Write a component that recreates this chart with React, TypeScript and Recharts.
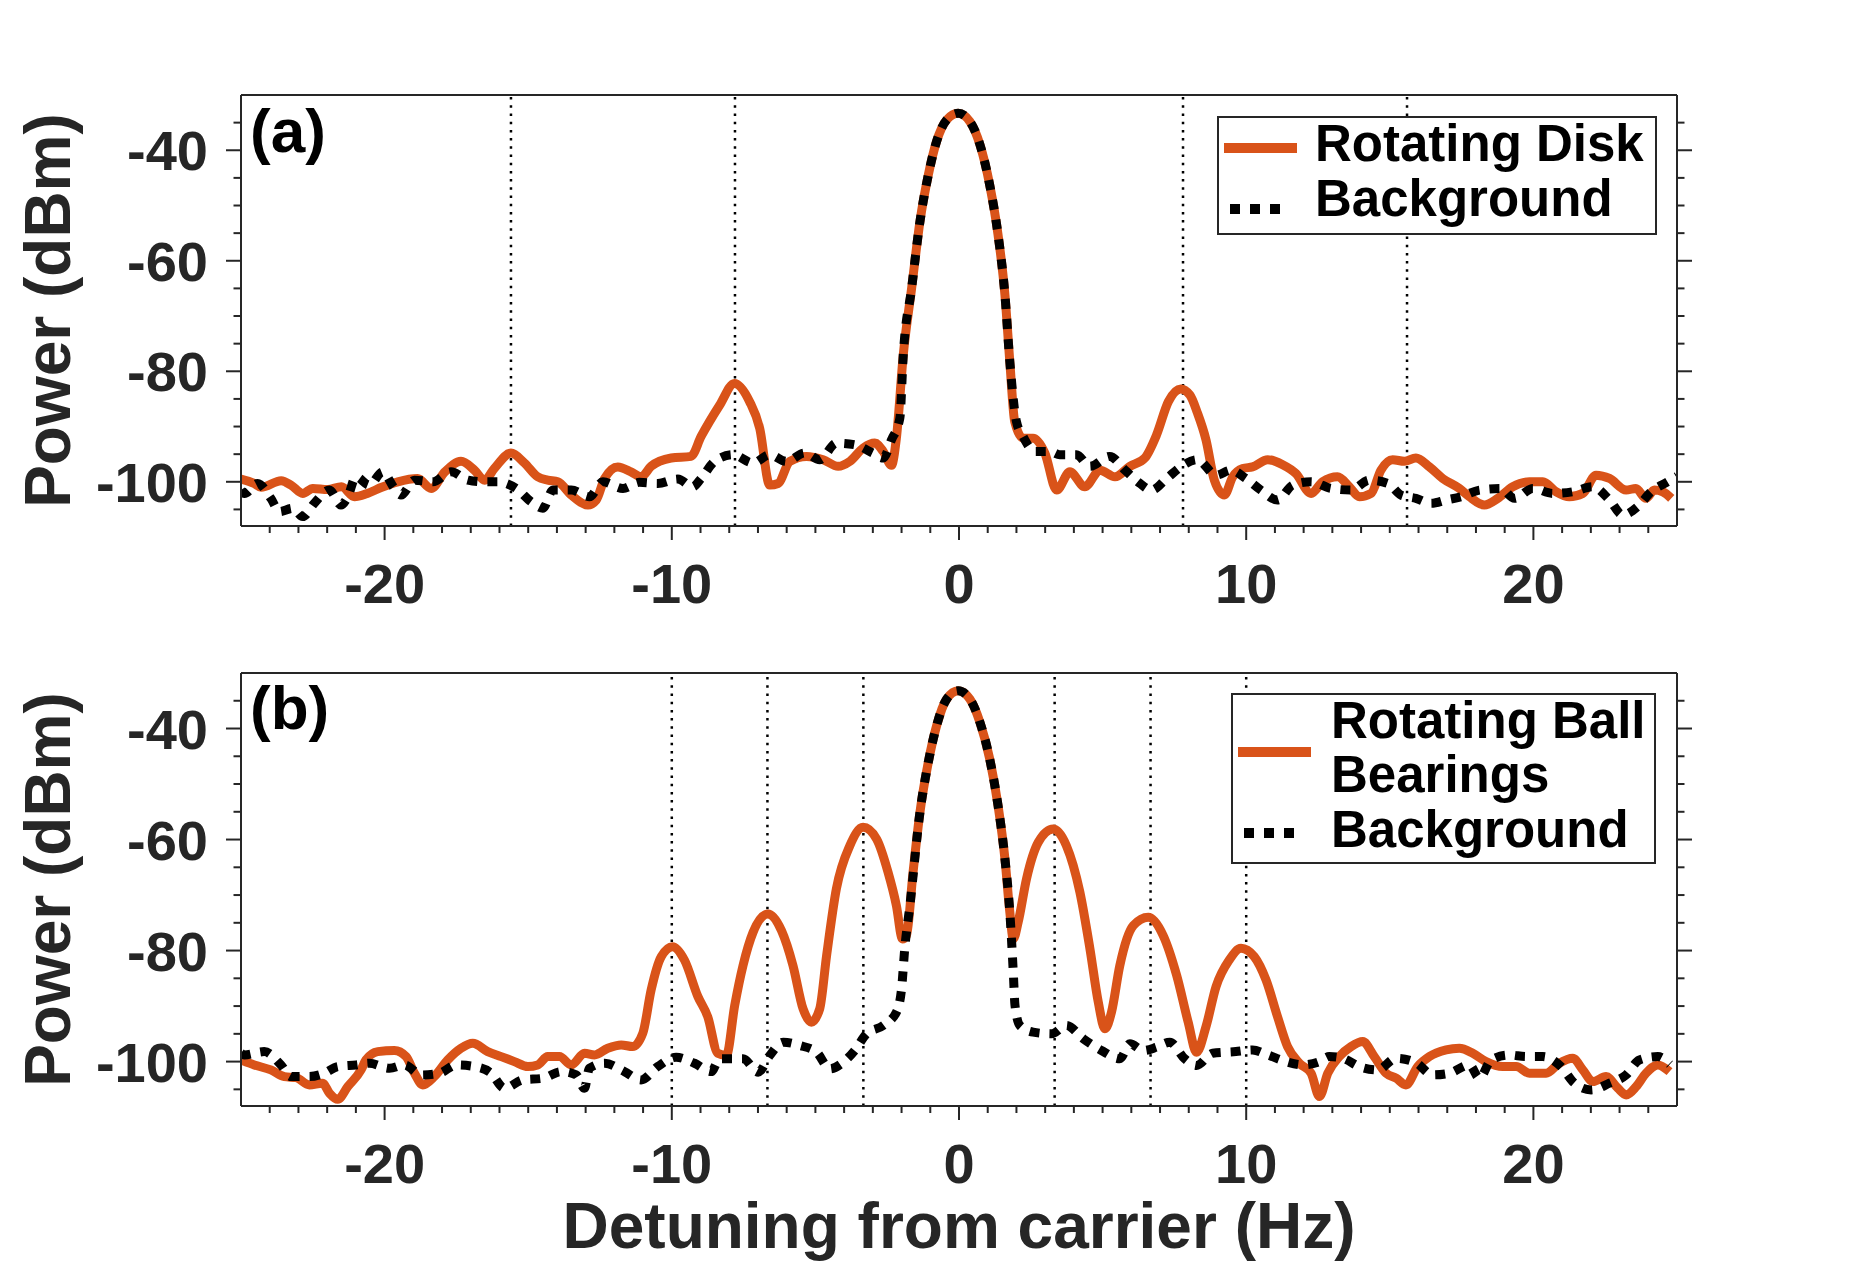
import { Label, Legend, Line, LineChart, ReferenceLine, XAxis, YAxis } from "recharts";

const ORANGE = "#D95319";
const BLACK = "#000000";
const AXIS = "#262626";
const FONT = '"Liberation Sans", Arial, Helvetica, sans-serif';

// (a) rotating disk, [detuning Hz, power dBm]
const diskSpectrum: [number, number][] = [
    [-25, -99.5], [-24.54, -100.3], [-24.3, -101], [-23.6, -99.8], [-23.26, -100.6], [-22.85, -102.1],
    [-22.5, -101.2], [-21.98, -101.4], [-21.5, -100.9], [-21.05, -102.7], [-20.6, -102.1], [-20.1, -101],
    [-19.54, -100], [-18.85, -99.4], [-18.38, -101.2], [-17.9, -98.2], [-17.34, -96.3], [-16.87, -97.9],
    [-16.52, -99.7], [-16.18, -97.6], [-15.6, -94.8], [-15.13, -96.6], [-14.67, -99.1], [-14.32, -99.7],
    [-13.97, -100], [-13.5, -102.4], [-12.92, -104.2], [-12.63, -103.3], [-12.34, -99.4], [-11.88, -97.3],
    [-11.42, -98.2], [-11.07, -99.1], [-10.72, -97.2], [-10.02, -95.7], [-9.33, -95.4], [-8.98, -91.8],
    [-8.33, -86.1], [-7.82, -82.2], [-7.29, -85.5], [-6.94, -90.3], [-6.59, -100.6], [-6.3, -100.3],
    [-5.89, -96.3], [-5.31, -95.4], [-4.73, -96], [-4.21, -97.2], [-3.8, -96.3], [-3.34, -93.9],
    [-2.93, -93], [-2.64, -94.5], [-2.35, -97], [-2.18, -92.1], [-1.94, -77], [-1.65, -65],
    [-1.36, -52.9], [-1.07, -44.5], [-0.78, -38.4], [-0.43, -34.5], [-0.03, -33.3], [0.38, -34.8],
    [0.73, -39], [1.07, -46.3], [1.36, -55.3], [1.6, -66.2], [1.77, -78.3], [1.94, -89.1],
    [2.23, -92.1], [2.58, -92.1], [2.99, -94.8], [3.4, -101.5], [3.86, -98.2], [4.38, -100.9],
    [4.91, -97.9], [5.43, -99.1], [5.95, -97.2], [6.47, -95.7], [6.88, -91.5], [7.29, -85.5],
    [7.72, -83.2], [8.04, -84.3], [8.3, -87.5], [8.6, -92.4], [8.89, -99.7], [9.24, -102.4],
    [9.53, -99.1], [9.88, -97.6], [10.22, -97.3], [10.75, -96], [11.27, -96.9], [11.73, -98.5],
    [12.26, -102.1], [12.66, -100], [13.18, -99.1], [13.59, -100.9], [13.94, -102.7], [14.35, -102.1],
    [14.69, -97.9], [15.1, -96], [15.51, -96.3], [15.91, -95.7], [16.38, -97.3], [16.84, -99.4],
    [17.42, -101.2], [17.77, -102.7], [18.29, -104.2], [18.76, -103], [19.28, -100.9], [19.86, -100],
    [20.33, -100], [20.79, -101.8], [21.25, -102.7], [21.72, -102.1], [22.18, -98.8], [22.65, -99.4],
    [23.23, -101.5], [23.57, -101.2], [23.92, -103], [24.21, -101.5], [24.5, -101.8], [24.8, -103],
];

const diskBackground: [number, number][] = [
    [-25, -101.5], [-24.88, -102.1], [-24.42, -100.3], [-23.96, -103], [-23.66, -105.4], [-23.2, -104.8],
    [-22.85, -106.3], [-22.45, -103.9], [-21.92, -101.5], [-21.52, -104.2], [-21.28, -102.7], [-21, -99.1],
    [-20.53, -100.6], [-20.07, -98.2], [-19.66, -101.2], [-19.43, -102.4], [-18.96, -99.7], [-18.32, -100],
    [-17.69, -98.2], [-17.1, -99.7], [-16.58, -100], [-16.06, -100], [-15.42, -101.2], [-14.9, -103.6],
    [-14.49, -104.8], [-14.14, -101.5], [-13.5, -101.5], [-12.87, -102.7], [-12.4, -100], [-11.7, -101.2],
    [-11.13, -100.1], [-10.49, -100.3], [-9.79, -99.5], [-9.27, -100.9], [-8.98, -99.4], [-8.51, -96.3],
    [-7.87, -95.1], [-7.17, -96.6], [-6.59, -95.1], [-6.01, -96.3], [-5.37, -94.8], [-4.85, -96],
    [-4.27, -93], [-3.63, -93.3], [-3, -94.8], [-2.64, -95.7], [-2.35, -92.4], [-2.06, -88.5],
    [-1.94, -77], [-1.65, -65], [-1.36, -52.9], [-1.07, -44.5], [-0.78, -38.4], [-0.43, -34.5],
    [-0.03, -33.3], [0.38, -34.8], [0.73, -39], [1.07, -46.3], [1.36, -55.3], [1.6, -66.2],
    [1.77, -78.3], [2, -89.1], [2.23, -91.8], [2.64, -94.5], [3.16, -94.5], [3.51, -95.1],
    [4.09, -95.1], [4.56, -97.2], [5.25, -95.4], [5.78, -97.9], [6.3, -100.3], [6.7, -101.5],
    [7.23, -99.4], [7.75, -97.2], [8.3, -96], [8.95, -98.8], [9.47, -97.9], [9.99, -99.4],
    [10.51, -101.5], [11.09, -103.3], [11.62, -100.6], [12.26, -100], [12.95, -101.2], [13.65, -101.5],
    [14.29, -99.7], [14.93, -100.3], [15.39, -102.4], [15.91, -103], [16.44, -103.9], [16.96, -103.3],
    [17.48, -102.7], [18.12, -101.5], [18.87, -101.2], [19.34, -103], [19.98, -101.2], [20.67, -102.1],
    [21.37, -101.8], [22.07, -100.9], [22.65, -103.3], [23.11, -106], [23.63, -104.5], [24.1, -101.8],
    [24.68, -100], [25, -99],
];

// (b) rotating ball bearings
const ballSpectrum: [number, number][] = [
    [-25, -99.7], [-24.54, -100.6], [-23.96, -101.5], [-23.49, -102.7], [-23.08, -102.9], [-22.62, -104.2],
    [-22.16, -103.9], [-21.92, -105.7], [-21.63, -106.8], [-21.28, -104.5], [-20.82, -101.5], [-20.65, -99.7],
    [-20.24, -98.2], [-19.66, -98], [-19.25, -99.1], [-18.96, -102.1], [-18.67, -104.2], [-18.27, -102.7],
    [-17.8, -99.7], [-17.34, -97.6], [-16.93, -96.7], [-16.41, -98.2], [-15.94, -99.1], [-15.48, -100],
    [-15.01, -100.9], [-14.67, -100.6], [-14.32, -99.1], [-13.91, -99.1], [-13.5, -100.6], [-13.04, -98.5],
    [-12.69, -98.8], [-12.23, -97.6], [-11.76, -97], [-11.36, -97.3], [-11.01, -94.9], [-10.72, -87.1],
    [-10.37, -81.1], [-9.97, -79.3], [-9.56, -81.7], [-9.09, -88.3], [-8.75, -91.9], [-8.4, -98.5],
    [-8.1, -98.9], [-7.81, -89.9], [-7.52, -82.7], [-7.17, -76.7], [-6.65, -73.4], [-6.18, -76.4],
    [-5.78, -82.7], [-5.43, -90.5], [-5.14, -92.9], [-4.85, -90.5], [-4.61, -80.9], [-4.27, -68.9],
    [-3.8, -61.1], [-3.34, -57.8], [-2.87, -59.9], [-2.47, -65.9], [-2.18, -71.9], [-1.97, -77.9],
    [-1.83, -77.3], [-1.6, -65.9], [-1.36, -55.1], [-1.07, -46.1], [-0.78, -39.5], [-0.43, -34.7],
    [-0.03, -33.2], [0.38, -34.7], [0.73, -38.9], [1.07, -45.5], [1.36, -53.9], [1.6, -63.5],
    [1.77, -73.1], [1.89, -77.9], [2.06, -74.9], [2.35, -67.1], [2.76, -60.5], [3.28, -58.1],
    [3.74, -61.1], [4.21, -69.5], [4.56, -79.7], [4.85, -89.3], [5.08, -94.1], [5.31, -91.1],
    [5.6, -82.7], [6.07, -75.5], [6.59, -74], [7.11, -77.3], [7.58, -84.5], [7.98, -92.9],
    [8.27, -98.3], [8.6, -93.7], [8.95, -86.5], [9.41, -81.7], [9.82, -79.6], [10.28, -81.1],
    [10.69, -85.3], [11.09, -91.9], [11.44, -97.3], [11.85, -100.3], [12.26, -102.1], [12.55, -106.3],
    [12.84, -102.1], [13.24, -99.1], [13.65, -97.3], [14.06, -96.4], [14.46, -99.1], [14.87, -102.1],
    [15.22, -103], [15.56, -104.2], [15.97, -100.9], [16.38, -99.1], [16.96, -97.9], [17.42, -97.6],
    [17.89, -98.5], [18.35, -100], [18.93, -100.9], [19.4, -100.9], [19.86, -102.1], [20.44, -102.1],
    [20.9, -100.3], [21.37, -99.4], [21.72, -101.5], [22.07, -103.6], [22.53, -102.7], [22.94, -104.8],
    [23.23, -106], [23.58, -104.5], [23.92, -102.1], [24.33, -100.6], [24.74, -101.8],
];

const ballBackground: [number, number][] = [
    [-25, -98.5], [-24.88, -98.8], [-24.19, -98.2], [-23.61, -100.6], [-23.26, -102.7], [-22.62, -102.7],
    [-22.1, -102.1], [-21.63, -100.9], [-20.99, -100.6], [-20.53, -100.3], [-19.83, -101.2], [-19.31, -100.6],
    [-18.73, -102.4], [-18.09, -102.1], [-17.51, -100.6], [-16.87, -100.9], [-16.29, -102.1], [-15.83, -104.8],
    [-15.19, -103.3], [-14.49, -103], [-13.85, -101.8], [-13.33, -102.4], [-13.04, -104.8], [-12.87, -101.2],
    [-12.34, -100.3], [-11.65, -101.8], [-11.07, -103.3], [-10.49, -100.9], [-9.85, -99.2], [-9.21, -100.3],
    [-8.63, -101.8], [-8.33, -99.5], [-7.52, -99.5], [-6.99, -101.9], [-6.59, -98.9], [-6.12, -96.5],
    [-5.54, -97.1], [-4.96, -98.3], [-4.5, -101.3], [-4.03, -100.1], [-3.63, -98], [-3.22, -95],
    [-2.64, -93.5], [-2.18, -91.1], [-2, -86.9], [-1.89, -79.7], [-1.71, -71.9], [-1.36, -55.1],
    [-1.07, -46.1], [-0.78, -39.5], [-0.43, -34.7], [-0.03, -33.2], [0.38, -34.7], [0.73, -38.9],
    [1.07, -45.5], [1.36, -53.9], [1.6, -63.5], [1.77, -73.1], [1.89, -83.9], [1.95, -89.9],
    [2.12, -93.5], [2.58, -94.7], [3.22, -95], [3.74, -93.5], [4.33, -95.9], [4.96, -98],
    [5.6, -99.5], [5.95, -96.8], [6.42, -98], [6.88, -97.4], [7.34, -96.5], [7.86, -99.5],
    [8.27, -100.7], [8.83, -98.5], [9.64, -98.2], [10.22, -97.9], [10.75, -98.8], [11.38, -100],
    [11.97, -100.6], [12.55, -100], [12.89, -99.1], [13.36, -99.4], [13.94, -100.9], [14.58, -101.5],
    [15.22, -99.4], [15.91, -100.2], [16.49, -102.4], [17.07, -102.1], [17.77, -100.6], [18.12, -103],
    [18.53, -99.7], [19.16, -98.8], [19.74, -99.1], [20.33, -99.1], [20.96, -100.9], [21.43, -103.9],
    [22.01, -105.1], [22.65, -103.9], [23.23, -102.4], [23.69, -99.7], [24.33, -99.1], [24.75, -100.5],
];

const diskMarkers = [-15.6, -7.8, 7.8, 15.6];
const ballMarkers = [-10, -6.67, -3.33, 3.33, 6.67, 10];

const xMajor = [-20, -10, 0, 10, 20];
const yMajor = [-100, -80, -60, -40];
const xTicks = Array.from({ length: 49 }, (_, i) => i - 24);
const yTicks = Array.from({ length: 15 }, (_, i) => -105 + i * 5);

const toPoints = (rows: [number, number][]) => rows.map(([f, p]) => ({ f, p }));

function BottomTick({ x, y, payload }: any) {
    const major = xMajor.includes(payload.value);
    return (
        <g>
            <line x1={x} y1={y} x2={x} y2={y + (major ? 14 : 7)} stroke={AXIS} strokeWidth={2} />
            {major && (
                <text x={x} y={y + 77} textAnchor="middle" fontFamily={FONT} fontWeight={700} fontSize={56} fill={AXIS}>
                    {payload.value}
                </text>
            )}
        </g>
    );
}

function TopTick({ x, y, payload }: any) {
    const major = xMajor.includes(payload.value);
    return <line x1={x} y1={y} x2={x} y2={y - (major ? 14 : 7)} stroke={AXIS} strokeWidth={2} />;
}

function LeftTick({ x, y, payload }: any) {
    const major = yMajor.includes(payload.value);
    return (
        <g>
            <line x1={x - (major ? 15 : 7.5)} y1={y} x2={x} y2={y} stroke={AXIS} strokeWidth={2} />
            {major && (
                <text x={x - 33} y={y} dy="0.36em" textAnchor="end" fontFamily={FONT} fontWeight={700} fontSize={56} fill={AXIS}>
                    {payload.value}
                </text>
            )}
        </g>
    );
}

function RightTick({ x, y, payload }: any) {
    const major = yMajor.includes(payload.value);
    return <line x1={x} y1={y} x2={x + (major ? 15 : 7.5)} y2={y} stroke={AXIS} strokeWidth={2} />;
}

interface LegendRow {
    sampleY: number;
    sampleX: [number, number];
    baselines: number[];
}

interface LegendLayout {
    left: number;
    top: number;
    width: number;
    height: number;
    textX: number;
    main: LegendRow;
    background: LegendRow;
}

function makeLegend(layout: LegendLayout) {
    return (props: any) => {
        const items = props.payload ?? [];
        return (
            <svg width={layout.width} height={layout.height} style={{ display: "block", overflow: "visible" }}>
                <rect x={1} y={1} width={layout.width - 2} height={layout.height - 2} fill="#fff" stroke={AXIS} strokeWidth={2} />
                {items.map((item: any, i: number) => {
                    const dotted = item.color === BLACK;
                    const row = dotted ? layout.background : layout.main;
                    return (
                        <g key={i}>
                            <line
                                x1={row.sampleX[0]}
                                x2={row.sampleX[1]}
                                y1={row.sampleY}
                                y2={row.sampleY}
                                stroke={item.color}
                                strokeWidth={10}
                                strokeDasharray={dotted ? "10 10" : undefined}
                            />
                            {String(item.value)
                                .split("\n")
                                .map((t, j) => (
                                    <text key={j} x={layout.textX} y={row.baselines[j]} fontFamily={FONT} fontWeight={700} fontSize={51} fill="#000">
                                        {t}
                                    </text>
                                ))}
                        </g>
                    );
                })}
            </svg>
        );
    };
}

interface PanelProps {
    top: number;
    plotHeight: number;
    signal: [number, number][];
    background: [number, number][];
    signalName: string;
    markers: number[];
    legend: LegendLayout;
    xLabel?: string;
}

function Panel({ top, plotHeight, signal, background, signalName, markers, legend, xLabel }: PanelProps) {
    const bottomMargin = xLabel ? 70 : 14;
    const height = 95 + plotHeight + 100 + bottomMargin;
    return (
        <div style={{ position: "absolute", left: 0, top }}>
            <LineChart width={1855} height={height} margin={{ top: 65, right: 148, bottom: bottomMargin, left: 0 }}>
                <XAxis
                    xAxisId="b"
                    dataKey="f"
                    type="number"
                    domain={[-25, 25]}
                    allowDataOverflow
                    ticks={xTicks}
                    interval={0}
                    tick={<BottomTick />}
                    tickLine={false}
                    tickSize={0}
                    tickMargin={0}
                    height={100}
                    axisLine={{ stroke: AXIS, strokeWidth: 2 }}
                >
                    {xLabel && (
                        <Label
                            content={(p: any) => {
                                const vb = p.viewBox ?? { x: 241, y: 95 + plotHeight, width: 1436 };
                                return (
                                    <text x={vb.x + vb.width / 2} y={vb.y + 142} textAnchor="middle" fontFamily={FONT} fontWeight={700} fontSize={64} fill={AXIS}>
                                        {xLabel}
                                    </text>
                                );
                            }}
                        />
                    )}
                </XAxis>
                <XAxis
                    xAxisId="t"
                    orientation="top"
                    type="number"
                    domain={[-25, 25]}
                    allowDataOverflow
                    ticks={xTicks}
                    interval={0}
                    tick={<TopTick />}
                    tickLine={false}
                    tickSize={0}
                    tickMargin={0}
                    height={30}
                    axisLine={{ stroke: AXIS, strokeWidth: 2 }}
                />
                <YAxis
                    yAxisId="l"
                    type="number"
                    domain={[-108, -30]}
                    allowDataOverflow
                    ticks={yTicks}
                    interval={0}
                    tick={<LeftTick />}
                    tickLine={false}
                    tickSize={0}
                    tickMargin={0}
                    width={241}
                    axisLine={{ stroke: AXIS, strokeWidth: 2 }}
                >
                    <Label
                        content={(p: any) => {
                            const vb = p.viewBox ?? { y: 95, height: plotHeight };
                            const cy = vb.y + vb.height / 2;
                            return (
                                <text
                                    x={70}
                                    y={cy}
                                    transform={`rotate(-90, 70, ${cy})`}
                                    textAnchor="middle"
                                    fontFamily={FONT}
                                    fontWeight={700}
                                    fontSize={64}
                                    fill={AXIS}
                                >
                                    Power (dBm)
                                </text>
                            );
                        }}
                    />
                </YAxis>
                <YAxis
                    yAxisId="r"
                    orientation="right"
                    type="number"
                    domain={[-108, -30]}
                    allowDataOverflow
                    ticks={yTicks}
                    interval={0}
                    tick={<RightTick />}
                    tickLine={false}
                    tickSize={0}
                    tickMargin={0}
                    width={30}
                    axisLine={{ stroke: AXIS, strokeWidth: 2 }}
                />
                {markers.map((m) => (
                    <ReferenceLine key={m} x={m} xAxisId="b" yAxisId="l" stroke={BLACK} strokeWidth={2.5} strokeDasharray="2.5 5.7" />
                ))}
                <Line
                    data={toPoints(signal)}
                    xAxisId="b"
                    yAxisId="l"
                    dataKey="p"
                    name={signalName}
                    type="monotone"
                    stroke={ORANGE}
                    strokeWidth={9}
                    dot={false}
                    activeDot={false}
                    isAnimationActive={false}
                />
                <Line
                    data={toPoints(background)}
                    xAxisId="b"
                    yAxisId="l"
                    dataKey="p"
                    name="Background"
                    type="monotone"
                    stroke={BLACK}
                    strokeWidth={9}
                    strokeDasharray="10 10"
                    dot={false}
                    activeDot={false}
                    isAnimationActive={false}
                />
                <Legend
                    layout="horizontal"
                    verticalAlign="middle"
                    align="center"
                    content={makeLegend(legend)}
                    wrapperStyle={{ left: legend.left, top: legend.top, width: legend.width, height: legend.height }}
                />
            </LineChart>
        </div>
    );
}

const legendA: LegendLayout = {
    left: 1217,
    top: 116,
    width: 440,
    height: 119,
    textX: 98,
    main: { sampleY: 32, sampleX: [7, 80], baselines: [45] },
    background: { sampleY: 93, sampleX: [13, 63], baselines: [100] },
};

const legendB: LegendLayout = {
    left: 1231,
    top: 693 - 578,
    width: 425,
    height: 171,
    textX: 100,
    main: { sampleY: 59, sampleX: [7, 80], baselines: [45, 99] },
    background: { sampleY: 140, sampleX: [13, 63], baselines: [154] },
};

export default function App() {
    return (
        <div style={{ position: "absolute", left: 0, top: 0, width: 1855, height: 1269, background: "#fff", overflow: "hidden" }}>
            <Panel
                top={0}
                plotHeight={431}
                signal={diskSpectrum}
                background={diskBackground}
                signalName="Rotating Disk"
                markers={diskMarkers}
                legend={legendA}
            />
            <Panel
                top={578}
                plotHeight={433}
                signal={ballSpectrum}
                background={ballBackground}
                signalName={"Rotating Ball\nBearings"}
                markers={ballMarkers}
                legend={legendB}
                xLabel="Detuning from carrier (Hz)"
            />
            <svg width={1855} height={1269} style={{ position: "absolute", left: 0, top: 0, pointerEvents: "none" }}>
                <text x={250} y={152} fontFamily={FONT} fontWeight={700} fontSize={62} fill="#000">
                    (a)
                </text>
                <text x={250} y={729} fontFamily={FONT} fontWeight={700} fontSize={62} fill="#000">
                    (b)
                </text>
            </svg>
        </div>
    );
}
